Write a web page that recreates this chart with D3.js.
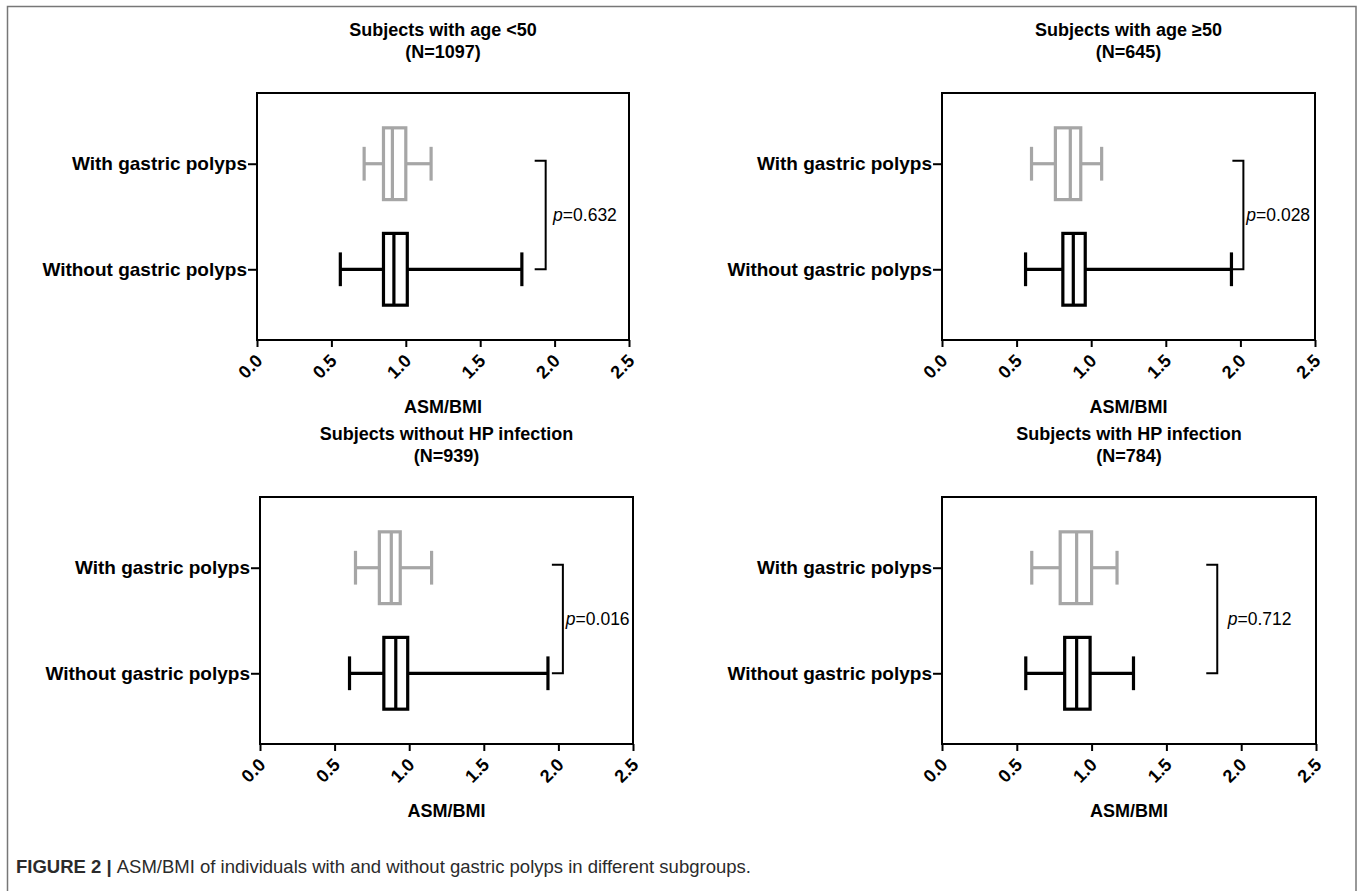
<!DOCTYPE html>
<html>
<head>
<meta charset="utf-8">
<script src="https://cdn.jsdelivr.net/npm/d3@7"></script>
<style>
  body { margin: 0; background: #fff; }
  svg { display: block; font-family: "Liberation Sans", Arial, Helvetica, sans-serif; }
</style>
</head>
<body>
<div id="chart"></div>
<script>
const width = 1360;
const height = 891;

// panel titles and sizes
const panelTitles = ["Subjects with age <50", "Subjects with age \u226550", "Subjects without HP infection", "Subjects with HP infection"];
const panelN = ["N=1097", "N=645", "N=939", "N=784"];

const categories = ["With gastric polyps", "Without gastric polyps"];

// [min, q1, median, q3, max] per panel
const withPolypsStats = [
  [0.72, 0.85, 0.91, 1.00, 1.17],
  [0.60, 0.76, 0.86, 0.93, 1.07],
  [0.64, 0.80, 0.88, 0.94, 1.15],
  [0.60, 0.79, 0.90, 1.00, 1.17]
];
const withoutPolypsStats = [
  [0.56, 0.85, 0.92, 1.01, 1.78],
  [0.56, 0.81, 0.88, 0.96, 1.94],
  [0.60, 0.83, 0.91, 0.99, 1.93],
  [0.56, 0.82, 0.90, 0.99, 1.28]
];

const pValues = ["0.632", "0.028", "0.016", "0.712"];
const bracketX = [1.94, 2.02, 2.03, 1.84];
const pLabelX = [1.99, 2.04, 2.05, 1.91];

const xTicks = [0, 0.5, 1.0, 1.5, 2.0, 2.5];
const xLabel = "ASM/BMI";

// layout of the four plot boxes
const panels = [
  { x0: 257, x1: 629, y0: 93, y1: 340 },
  { x0: 942, x1: 1315, y0: 93, y1: 340 },
  { x0: 260, x1: 633, y0: 497, y1: 744 },
  { x0: 942, x1: 1316, y0: 497, y1: 744 }
];

const gray = "#a6a6a6";

const svg = d3.select("#chart")
  .append("svg")
  .attr("width", width)
  .attr("height", height);

// outer figure frame
svg.append("rect")
  .attr("x", 7.5)
  .attr("y", 6.5)
  .attr("width", 1348.5)
  .attr("height", 900)
  .attr("fill", "none")
  .attr("stroke", "#777")
  .attr("stroke-width", 1.5);

panels.forEach((p, i) => {
  const x = d3.scaleLinear().domain([0, 2.5]).range([p.x0, p.x1]);
  const y = d3.scalePoint().domain(categories).range([p.y0, p.y1]).padding(0.67);
  const step = y.step();
  const g = svg.append("g");
  const cx = (p.x0 + p.x1) / 2;

  // title
  g.append("text")
    .attr("x", cx)
    .attr("y", p.y0 - 57)
    .attr("text-anchor", "middle")
    .style("font-size", "18px")
    .style("font-weight", "bold")
    .text(panelTitles[i]);
  g.append("text")
    .attr("x", cx)
    .attr("y", p.y0 - 35)
    .attr("text-anchor", "middle")
    .style("font-size", "18px")
    .style("font-weight", "bold")
    .text(`(${panelN[i]})`);

  // x axis
  const xAxis = g.append("g")
    .attr("transform", `translate(0,${p.y1})`)
    .call(d3.axisBottom(x).tickValues(xTicks).tickFormat(d3.format(".1f")).tickSize(7).tickSizeOuter(0));
  xAxis.select(".domain").remove();
  xAxis.selectAll(".tick line").attr("stroke", "#000").attr("stroke-width", 2);
  xAxis.selectAll(".tick text")
    .attr("y", 0)
    .attr("dy", 0)
    .attr("transform", "translate(6,22) rotate(-45)")
    .attr("text-anchor", "end")
    .style("font-size", "18px")
    .style("font-weight", "bold")
    .style("font-family", "Liberation Sans, Arial, sans-serif")
    .attr("fill", "#000");

  g.append("text")
    .attr("x", cx)
    .attr("y", p.y1 + 73)
    .attr("text-anchor", "middle")
    .style("font-size", "18px")
    .style("font-weight", "bold")
    .text(xLabel);

  // y axis
  const yAxis = g.append("g")
    .attr("transform", `translate(${p.x0},0)`)
    .call(d3.axisLeft(y).tickSize(9).tickSizeOuter(0).tickPadding(1));
  yAxis.select(".domain").remove();
  yAxis.selectAll(".tick line").attr("stroke", "#000").attr("stroke-width", 2);
  yAxis.selectAll(".tick text")
    .style("font-size", "19px")
    .style("font-weight", "bold")
    .style("font-family", "Liberation Sans, Arial, sans-serif")
    .attr("fill", "#000");

  // plot frame
  g.append("rect")
    .attr("x", p.x0)
    .attr("y", p.y0)
    .attr("width", p.x1 - p.x0)
    .attr("height", p.y1 - p.y0)
    .attr("fill", "none")
    .attr("stroke", "#000")
    .attr("stroke-width", 2);

  // boxes
  const rows = [
    { cat: categories[0], s: withPolypsStats[i], color: gray },
    { cat: categories[1], s: withoutPolypsStats[i], color: "#000" }
  ];
  const boxH = step * 0.68;
  const capH = step * 0.32;

  const box = g.selectAll(".box")
    .data(rows)
    .enter()
    .append("g")
    .attr("class", "box")
    .attr("stroke", d => d.color)
    .attr("stroke-width", 3.2)
    .attr("fill", "none");

  // whiskers
  box.append("line")
    .attr("x1", d => x(d.s[0])).attr("x2", d => x(d.s[1]))
    .attr("y1", d => y(d.cat)).attr("y2", d => y(d.cat));
  box.append("line")
    .attr("x1", d => x(d.s[3])).attr("x2", d => x(d.s[4]))
    .attr("y1", d => y(d.cat)).attr("y2", d => y(d.cat));
  box.append("line")
    .attr("x1", d => x(d.s[0])).attr("x2", d => x(d.s[0]))
    .attr("y1", d => y(d.cat) - capH / 2).attr("y2", d => y(d.cat) + capH / 2);
  box.append("line")
    .attr("x1", d => x(d.s[4])).attr("x2", d => x(d.s[4]))
    .attr("y1", d => y(d.cat) - capH / 2).attr("y2", d => y(d.cat) + capH / 2);
  box.append("rect")
    .attr("x", d => x(d.s[1]))
    .attr("y", d => y(d.cat) - boxH / 2)
    .attr("width", d => x(d.s[3]) - x(d.s[1]))
    .attr("height", boxH);
  box.append("line")
    .attr("x1", d => x(d.s[2])).attr("x2", d => x(d.s[2]))
    .attr("y1", d => y(d.cat) - boxH / 2).attr("y2", d => y(d.cat) + boxH / 2);

  // significance bracket
  const bx = x(bracketX[i]);
  const yTop = y(categories[0]) - 3;
  const yBot = y(categories[1]);
  g.append("path")
    .attr("d", `M${bx - 11},${yTop}H${bx}V${yBot}H${bx - 11}`)
    .attr("fill", "none")
    .attr("stroke", "#000")
    .attr("stroke-width", 2);

  const pt = g.append("text")
    .attr("x", x(pLabelX[i]))
    .attr("y", (yTop + yBot) / 2 + 6)
    .style("font-size", "17.5px");
  pt.append("tspan").style("font-style", "italic").text("p");
  pt.append("tspan").text("=" + pValues[i]);
});

// figure caption
const cap = svg.append("text")
  .attr("x", 16)
  .attr("y", 873)
  .attr("fill", "#2b2b2b")
  .style("font-size", "18.5px")
  .style("font-family", "'Liberation Sans Narrow', 'Arial Narrow', 'Liberation Sans', sans-serif");
cap.append("tspan").style("font-weight", "bold").text("FIGURE 2 | ");
cap.append("tspan").text("ASM/BMI of individuals with and without gastric polyps in different subgroups.");
</script>
</body>
</html>
